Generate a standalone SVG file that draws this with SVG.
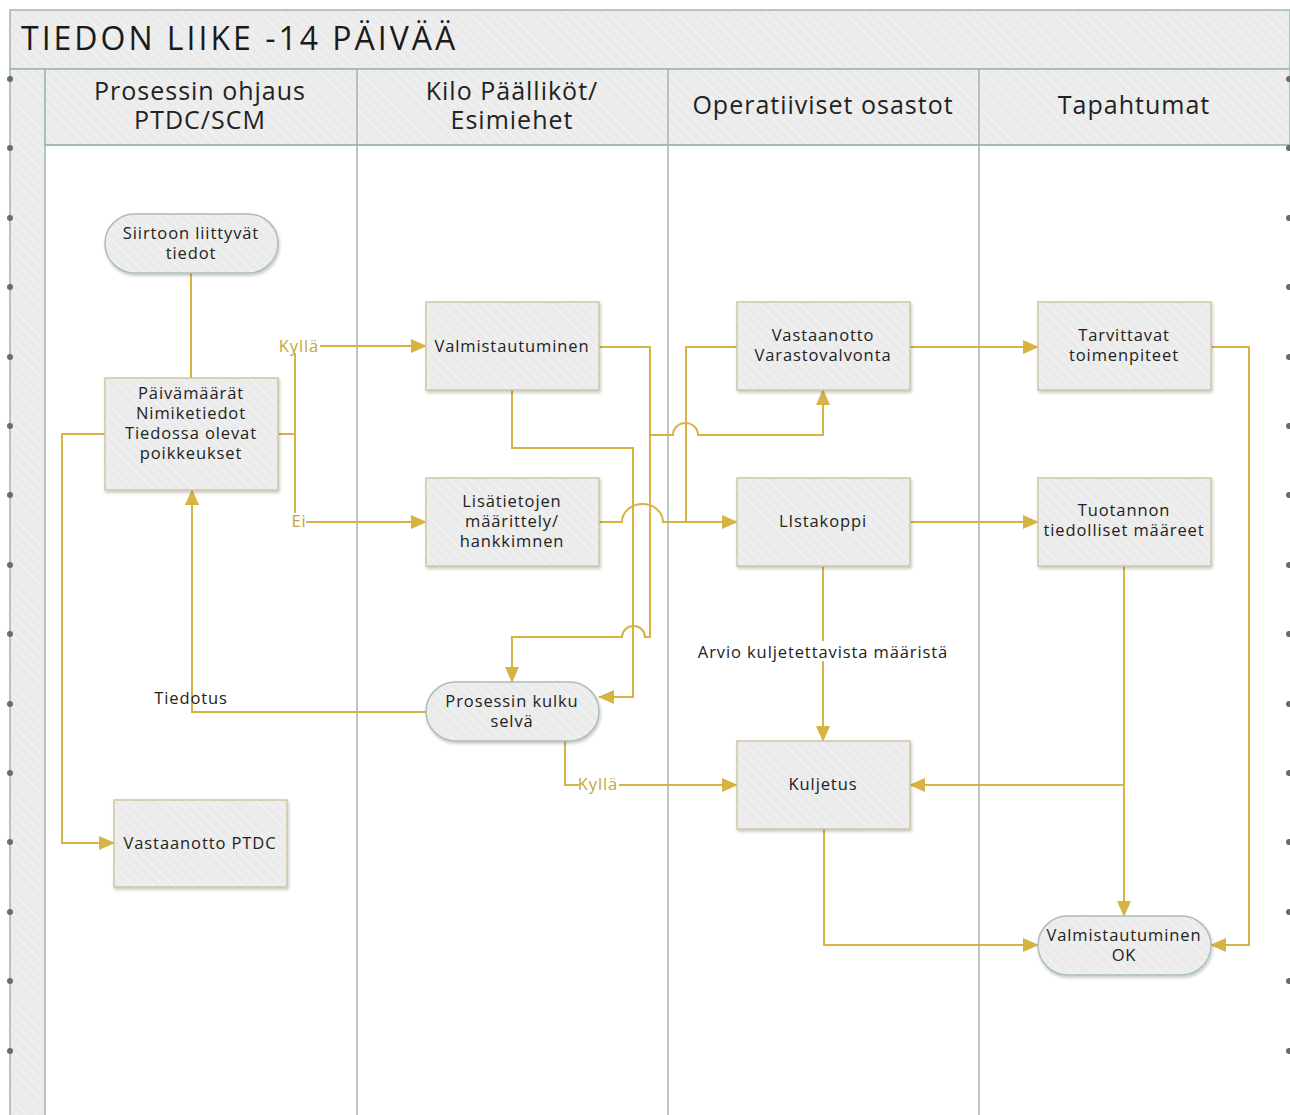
<svg xmlns="http://www.w3.org/2000/svg" width="1290" height="1115" viewBox="0 0 1290 1115">
  <style>
    .hdr { font-family: "Open Sans", "Noto Sans", "DejaVu Sans", sans-serif; font-size: 25px; letter-spacing: 1px; fill: #222; text-anchor: middle; dominant-baseline: central; }
    .title { font-family: "Open Sans", "Noto Sans", "DejaVu Sans", sans-serif; fill: #1a1a1a; font-size: 32px; letter-spacing: 3px; dominant-baseline: central; }
    .nt { font-family: "Open Sans", "Noto Sans", "DejaVu Sans", sans-serif; font-size: 16.5px; letter-spacing: 0.9px; fill: #222; text-anchor: middle; dominant-baseline: central; }
    .lbl { font-family: "Open Sans", "Noto Sans", "DejaVu Sans", sans-serif; font-size: 16.5px; letter-spacing: 0.9px; fill: #222; text-anchor: middle; dominant-baseline: central; }
    .glbl { font-family: "Open Sans", "Noto Sans", "DejaVu Sans", sans-serif; font-size: 16.5px; letter-spacing: 0.9px; fill: #c4a43c; text-anchor: middle; dominant-baseline: central; }
    .lane { fill: url(#hatch); stroke: #9fb6ae; stroke-width: 1.5; }
    .div { stroke: #9fb6ae; stroke-width: 1.5; fill: none; }
    .box { fill: url(#hatch); stroke: #cfc6a4; stroke-width: 1.5; filter: url(#shadow); }
    .term { fill: url(#hatch); stroke: #a9bfb7; stroke-width: 1.5; filter: url(#shadow); }
    .con { fill: none; stroke: #d6b443; stroke-width: 2; }
    .arr { marker-end: url(#ah); }
    .dot { fill: #6b6b6b; }
  </style>
  <defs>
    <pattern id="hatch" width="7" height="7" patternUnits="userSpaceOnUse" patternTransform="rotate(-45)">
      <rect width="7" height="7" fill="#ebebeb"/>
      <line x1="0" y1="0" x2="0" y2="7" stroke="#f4f4f4" stroke-width="2"/>
    </pattern>
    <filter id="shadow" x="-10%" y="-10%" width="125%" height="130%">
      <feDropShadow dx="1" dy="2" stdDeviation="1.5" flood-color="#000" flood-opacity="0.22"/>
    </filter>
    <marker id="ah" markerUnits="userSpaceOnUse" markerWidth="16" markerHeight="14" refX="15" refY="7" orient="auto">
      <path d="M0,0 L16,7 L0,14 Z" fill="#d6b443"/>
    </marker>
  </defs>

  <rect width="1290" height="1115" fill="#ffffff"/>

  <!-- pool title -->
  <g id="pool-title">
    <rect x="10" y="10" width="1280" height="59" class="lane"/>
    <text x="21" y="37" class="title">TIEDON LIIKE -14 PÄIVÄÄ</text>
  </g>

  <!-- lanes -->
  <g id="lanes">
    <rect x="10" y="69" width="35" height="1050" class="lane"/>
    <rect x="45" y="69" width="1245" height="76" class="lane"/>
    <line x1="45" y1="145" x2="1290" y2="145" class="div"/>
    <line x1="357" y1="69" x2="357" y2="1115" class="div"/>
    <line x1="668" y1="69" x2="668" y2="1115" class="div"/>
    <line x1="979" y1="69" x2="979" y2="1115" class="div"/>
    <text x="200" y="90" class="hdr">Prosessin ohjaus</text>
    <text x="200" y="119" class="hdr">PTDC/SCM</text>
    <text x="512" y="90" class="hdr">Kilo Päälliköt/</text>
    <text x="512" y="119" class="hdr">Esimiehet</text>
    <text x="823" y="104" class="hdr">Operatiiviset osastot</text>
    <text x="1134" y="104" class="hdr">Tapahtumat</text>
  </g>

  <!-- edge handles -->
  <g id="handles">
    <circle cx="10" cy="79" r="3" class="dot"/><circle cx="10" cy="148" r="3" class="dot"/>
    <circle cx="10" cy="218" r="3" class="dot"/><circle cx="10" cy="287" r="3" class="dot"/>
    <circle cx="10" cy="357" r="3" class="dot"/><circle cx="10" cy="426" r="3" class="dot"/>
    <circle cx="10" cy="495" r="3" class="dot"/><circle cx="10" cy="565" r="3" class="dot"/>
    <circle cx="10" cy="634" r="3" class="dot"/><circle cx="10" cy="704" r="3" class="dot"/>
    <circle cx="10" cy="773" r="3" class="dot"/><circle cx="10" cy="842" r="3" class="dot"/>
    <circle cx="10" cy="912" r="3" class="dot"/><circle cx="10" cy="981" r="3" class="dot"/>
    <circle cx="10" cy="1051" r="3" class="dot"/>
    <circle cx="1289" cy="79" r="3" class="dot"/><circle cx="1289" cy="148" r="3" class="dot"/>
    <circle cx="1289" cy="218" r="3" class="dot"/><circle cx="1289" cy="287" r="3" class="dot"/>
    <circle cx="1289" cy="357" r="3" class="dot"/><circle cx="1289" cy="426" r="3" class="dot"/>
    <circle cx="1289" cy="495" r="3" class="dot"/><circle cx="1289" cy="565" r="3" class="dot"/>
    <circle cx="1289" cy="634" r="3" class="dot"/><circle cx="1289" cy="704" r="3" class="dot"/>
    <circle cx="1289" cy="773" r="3" class="dot"/><circle cx="1289" cy="842" r="3" class="dot"/>
    <circle cx="1289" cy="912" r="3" class="dot"/><circle cx="1289" cy="981" r="3" class="dot"/>
    <circle cx="1289" cy="1051" r="3" class="dot"/>
  </g>

  <!-- connectors -->
  <g id="connectors">
    <path class="con" d="M191,273 V378"/>
    <path class="con arr" d="M278,434 H295 V346 H426"/>
    <path class="con arr" d="M295,434 V522 H426"/>
    <path class="con arr" d="M105,434 H62 V843 H114"/>
    <path class="con arr" d="M426,712 H192 V490"/>
    <path class="con arr" d="M565,741 V785 H737"/>
    <path class="con arr" d="M599,347 H650 V435 H673 A12.5,12 0 0 1 698,435 H823 V390"/>
    <path class="con arr" d="M650,435 V637 H645 A11.5,11 0 0 0 622,637 H512 V682"/>
    <path class="con arr" d="M512,390 V448 H633 V697 H599"/>
    <path class="con arr" d="M599,522 H622 A20.5,18 0 0 1 663,522 H737"/>
    <path class="con" d="M686,522 V347 H737"/>
    <path class="con arr" d="M910,347 H1038"/>
    <path class="con arr" d="M910,522 H1038"/>
    <path class="con arr" d="M823,566 V741"/>
    <path class="con arr" d="M1211,347 H1249 V945 H1211"/>
    <path class="con arr" d="M1124,566 V916"/>
    <path class="con arr" d="M1124,785 H910"/>
    <path class="con arr" d="M824,829 V945 H1038"/>

    <rect x="280" y="337" width="40" height="16" fill="#fff"/>
    <text x="299" y="345" class="glbl">Kyllä</text>
    <rect x="292" y="513" width="14" height="16" fill="#fff"/>
    <text x="299" y="520" class="glbl">Ei</text>
    <rect x="579" y="776" width="40" height="16" fill="#fff"/>
    <text x="598" y="783" class="glbl">Kyllä</text>
    <text x="191" y="697" class="lbl">Tiedotus</text>
    <rect x="696" y="641" width="254" height="20" fill="#fff"/>
    <text x="823" y="651" class="lbl">Arvio kuljetettavista määristä</text>
  </g>

  <!-- nodes -->
  <g id="n-siirtoon">
    <rect x="105" y="214" width="173" height="59" rx="29.5" class="term"/>
    <text x="191" y="232" class="nt">Siirtoon liittyvät</text>
    <text x="191" y="252" class="nt">tiedot</text>
  </g>
  <g id="n-paivamaarat">
    <rect x="105" y="378" width="173" height="112" class="box"/>
    <text x="191" y="392" class="nt">Päivämäärät</text>
    <text x="191" y="412" class="nt">Nimiketiedot</text>
    <text x="191" y="432" class="nt">Tiedossa olevat</text>
    <text x="191" y="452" class="nt">poikkeukset</text>
  </g>
  <g id="n-vastaanotto-ptdc">
    <rect x="114" y="800" width="173" height="87" class="box"/>
    <text x="200" y="842" class="nt">Vastaanotto PTDC</text>
  </g>
  <g id="n-valmistautuminen">
    <rect x="426" y="302" width="173" height="88" class="box"/>
    <text x="512" y="345" class="nt">Valmistautuminen</text>
  </g>
  <g id="n-lisatietojen">
    <rect x="426" y="478" width="173" height="88" class="box"/>
    <text x="512" y="500" class="nt">Lisätietojen</text>
    <text x="512" y="520" class="nt">määrittely/</text>
    <text x="512" y="540" class="nt">hankkimnen</text>
  </g>
  <g id="n-prosessin-kulku">
    <rect x="426" y="682" width="173" height="59" rx="29.5" class="term"/>
    <text x="512" y="700" class="nt">Prosessin kulku</text>
    <text x="512" y="720" class="nt">selvä</text>
  </g>
  <g id="n-vastaanotto-varasto">
    <rect x="737" y="302" width="173" height="88" class="box"/>
    <text x="823" y="334" class="nt">Vastaanotto</text>
    <text x="823" y="354" class="nt">Varastovalvonta</text>
  </g>
  <g id="n-listakoppi">
    <rect x="737" y="478" width="173" height="88" class="box"/>
    <text x="823" y="520" class="nt">LIstakoppi</text>
  </g>
  <g id="n-kuljetus">
    <rect x="737" y="741" width="173" height="88" class="box"/>
    <text x="823" y="783" class="nt">Kuljetus</text>
  </g>
  <g id="n-tarvittavat">
    <rect x="1038" y="302" width="173" height="88" class="box"/>
    <text x="1124" y="334" class="nt">Tarvittavat</text>
    <text x="1124" y="354" class="nt">toimenpiteet</text>
  </g>
  <g id="n-tuotannon">
    <rect x="1038" y="478" width="173" height="88" class="box"/>
    <text x="1124" y="509" class="nt">Tuotannon</text>
    <text x="1124" y="529" class="nt">tiedolliset määreet</text>
  </g>
  <g id="n-valmis-ok">
    <rect x="1038" y="916" width="173" height="59" rx="29.5" class="term"/>
    <text x="1124" y="934" class="nt">Valmistautuminen</text>
    <text x="1124" y="954" class="nt">OK</text>
  </g>
</svg>
